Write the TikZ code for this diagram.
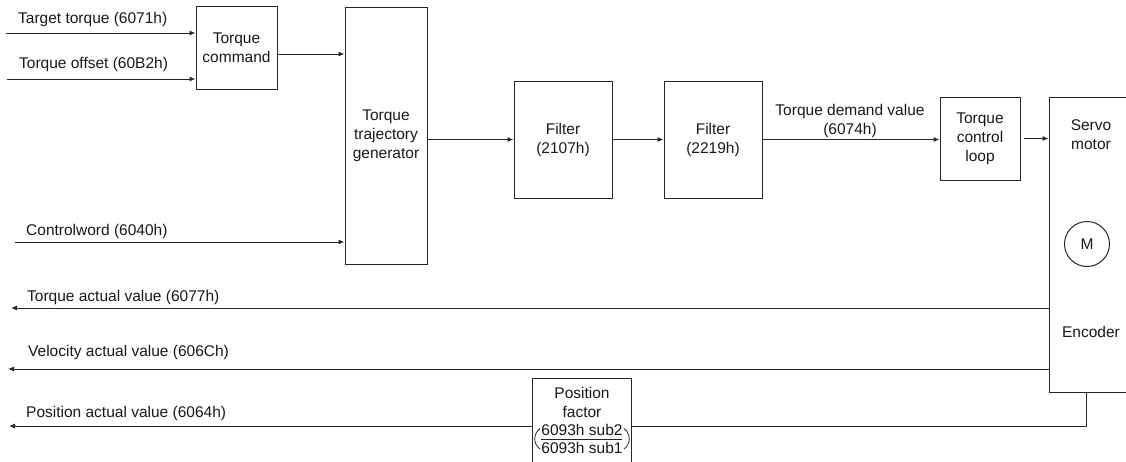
\documentclass[tikz,border=0pt]{standalone}
\usepackage{fontspec}
\setmainfont{Liberation Sans}
\usetikzlibrary{arrows.meta}
\begin{document}
\begin{tikzpicture}[x=1pt,y=-1pt,
  every node/.style={font=\fontsize{15.5}{19}\selectfont, text=black!90},
  blk/.style={draw=black!85, line width=1pt, inner sep=0pt, align=center},
  ln/.style={draw=black!85, line width=1pt},
  conn/.style={ln, -{Latex[length=6pt,width=5pt]}},
  lbl/.style={anchor=base west, inner sep=0pt},
]
\useasboundingbox (0,0) rectangle (1126,461);

% blocks
\node[blk, minimum width=81, minimum height=83] (cmd) at (236.5,47.5) {Torque\\command};
\node[blk, minimum width=82, minimum height=257] (traj) at (386,135.5) {Torque\\trajectory\\generator};
\node[blk, minimum width=98, minimum height=117] (f1) at (563,139.5) {Filter\\(2107h)};
\node[blk, minimum width=98, minimum height=117] (f2) at (713,139.5) {Filter\\(2219h)};
\node[blk, minimum width=80, minimum height=83] (tcl) at (980,138.5) {Torque\\control\\loop};
\node[blk, minimum width=90, minimum height=295] (servo) at (1094,244.5) {};
\node[align=center] (servotxt) at (1091,135) {Servo\\motor};
\node[draw=black!85, line width=1pt, circle, minimum size=45, inner sep=0pt] (m) at (1087,244) {M};
\node (enc) at (1091,332) {Encoder};
\node[blk, minimum width=99, minimum height=100] (pf) at (581.5,428) {};
\node[align=center] (pft) at (582,402) {Position\\factor};
\node[inner sep=0pt] (num) at (582,430) {6093h sub2};
\node[inner sep=0pt] (den) at (582,448) {6093h sub1};
\draw[line width=0.8pt, black!85] (541,439) -- (622,439);
\draw[line width=0.8pt, black!85] (540,428.5) .. controls (533,434) and (533,444) .. (540,449);
\draw[line width=0.8pt, black!85] (624,428.5) .. controls (631,434) and (631,444) .. (624,449);

% labels
\node[lbl] (l1) at (18,23.5) {Target torque (6071h)};
\node[lbl] (l2) at (19,68.5) {Torque offset (60B2h)};
\node[lbl] (l3) at (26,235) {Controlword (6040h)};
\node[lbl] (l4) at (27,301.7) {Torque actual value (6077h)};
\node[lbl] (l5) at (28,356) {Velocity actual value (606Ch)};
\node[lbl] (l6) at (26,417.7) {Position actual value (6064h)};
\node[align=center] (tdv) at (850,121) {Torque demand value\\(6074h)};

% connectors
\coordinate (tt) at (6,33);
\coordinate (to) at (7,79);
\coordinate (c54) at (0,54);
\coordinate (cw) at (15,242);
\coordinate (ta) at (11,308);
\coordinate (va) at (8,369);
\coordinate (pa) at (9,426);
\coordinate (pc) at (1086,426);

\draw[conn] (tt) -- (cmd.west |- tt);
\draw[conn] (to) -- (cmd.west |- to);
\draw[conn] (cmd.east |- c54) -- (traj.west |- c54);
\draw[conn] (cw) -- (traj.west |- cw);
\draw[conn] (traj.east |- f1.west) -- (f1.west);
\draw[conn] (f1.east) -- (f2.west);
\draw[conn] (f2.east) -- (tcl.west |- f2.east);
\draw[conn] ([xshift=3pt]tcl.east) -- (servo.west |- tcl.east);
\draw[conn] (servo.west |- ta) -- (ta);
\draw[conn] (servo.west |- va) -- (va);
\draw[ln] (servo.south -| pc) -- (pc) -- (pf.east |- pc);
\draw[conn] (pf.west |- pc) -- (pa);
\end{tikzpicture}
\end{document}
